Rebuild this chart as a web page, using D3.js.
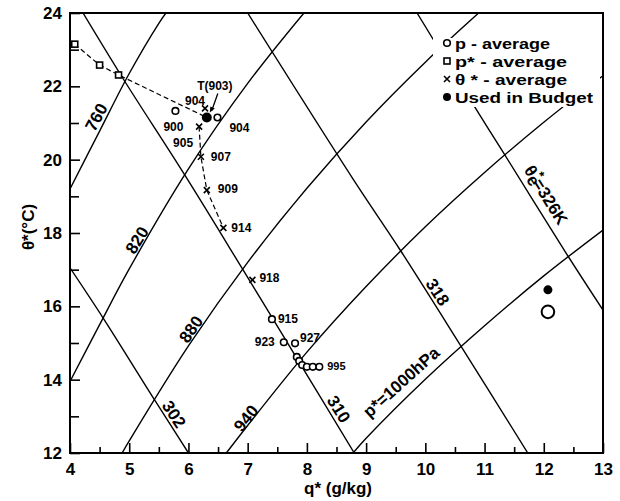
<!DOCTYPE html>
<html>
<head>
<meta charset="utf-8">
<script src="https://cdn.jsdelivr.net/npm/d3@7"></script>
<style>
  body { margin: 0; background: #fff; }
  text { font-family: "Liberation Sans", Arial, Helvetica, sans-serif; font-weight: bold; fill: #000; }
</style>
</head>
<body>
<svg id="chart" width="620" height="501"></svg>
<script>
// Saturation-point isobars p* (hPa): [q* (g/kg), theta* (°C)]
const isobar760  = [[4, 19.2], [4.5, 20.78], [5, 22.35], [5.5, 23.72], [5.62, 24]];
const isobar820  = [[4, 13.95], [4.5, 15.5], [5, 17.02], [6, 19.75], [7, 22.08], [7.95, 24]];
const isobar880  = [[4.88, 12], [5, 12.33], [6, 14.92], [7, 17.2], [8, 19.22], [9, 21.03], [10, 22.66], [10.9, 24]];
const isobar940  = [[6.64, 12], [7, 12.75], [8, 14.75], [9, 16.54], [10, 18.17], [11, 19.65], [12, 21.02], [13, 22.29]];
const isobar1000 = [[8.78, 12], [9, 12.4], [10, 14.01], [11, 15.47], [12, 16.83], [13, 18.08]];

// Saturation equivalent potential temperature lines theta_e* (K)
const isentrope302 = [[4, 17.05], [4.56, 15.68], [5.42, 13.47], [6.0, 12]];
const isentrope310 = [[4.22, 24], [4.9, 22.2], [5.95, 19.55], [6.92, 17.0], [7.88, 14.45], [8.8, 12]];
const isentrope318 = [[7.0, 24], [8.78, 19.47], [9.57, 17.55], [10.62, 14.87], [11.73, 12]];
const isentrope326 = [[9.86, 24], [10.81, 21.5], [11.3, 20.24], [12.39, 17.42], [13, 15.9]];

// p-averaged saturation points (label = pressure, hPa)
const pAverage = [
  { q: 5.78, t: 21.33, label: "900" },
  { q: 6.49, t: 21.15, label: "904" },
  { q: 7.41, t: 15.65, label: "915" },
  { q: 7.61, t: 15.02, label: "923" },
  { q: 7.80, t: 14.99, label: "927" },
  { q: 7.83, t: 14.62, label: "" },
  { q: 7.87, t: 14.51, label: "" },
  { q: 7.92, t: 14.40, label: "" },
  { q: 8.00, t: 14.35, label: "" },
  { q: 8.10, t: 14.35, label: "" },
  { q: 8.21, t: 14.35, label: "995" }
];

// p*-averaged saturation points
const pStarAverage = [
  { q: 4.08, t: 23.15 },
  { q: 4.50, t: 22.58 },
  { q: 4.82, t: 22.31 }
];

// theta*-averaged saturation points (label = p*, hPa)
const thetaStarAverage = [
  { q: 6.28, t: 21.40, label: "904" },
  { q: 6.18, t: 20.90, label: "905" },
  { q: 6.21, t: 20.08, label: "907" },
  { q: 6.31, t: 19.17, label: "909" },
  { q: 6.59, t: 18.14, label: "914" },
  { q: 7.08, t: 16.72, label: "918" }
];

// Points used in the budget
const budgetPoint = { q: 6.31, t: 21.15, label: "T(903)" };
const surfaceBudget = { q: 12.07, t: 16.45 };
const surfaceMean = { q: 12.07, t: 15.85 };

const qTickValues = [4, 5, 6, 7, 8, 9, 10, 11, 12, 13];
const qMinorTicks = [4.5, 5.5, 6.5, 7.5, 8.5, 9.5, 10.5, 11.5, 12.5];
const thetaTickValues = [12, 14, 16, 18, 20, 22, 24];
const thetaMinorTicks = [13, 15, 17, 19, 21, 23];

const legendItems = [
  { symbol: "circle", text: "p - average" },
  { symbol: "square", text: "p* - average" },
  { symbol: "cross", text: "θ * - average" },
  { symbol: "dot", text: "Used in Budget" }
];

// ---------------------------------------------------------------
const svg = d3.select("#chart");
const x = d3.scaleLinear().domain([4, 13]).range([70, 603]);
const y = d3.scaleLinear().domain([12, 24]).range([453, 13]);

svg.append("defs").append("clipPath").attr("id", "plot")
  .append("rect").attr("x", x(4)).attr("y", y(24))
  .attr("width", x(13) - x(4)).attr("height", y(12) - y(24));

const curve = d3.line()
  .x(d => x(d[0])).y(d => y(d[1]))
  .curve(d3.curveCatmullRom.alpha(0.5));

const grid = svg.append("g").attr("clip-path", "url(#plot)");
[isobar760, isobar820, isobar880, isobar940, isobar1000,
 isentrope302, isentrope310, isentrope318, isentrope326].forEach(pts => {
  grid.append("path").attr("d", curve(pts))
    .attr("fill", "none").attr("stroke", "#000").attr("stroke-width", 1.4);
});

// labels running along the reference lines
const lineLabels = [
  { text: "760", q: 4.44, t: 21.16, angle: -62 },
  { text: "820", q: 5.13, t: 17.81, angle: -58 },
  { text: "880", q: 6.04, t: 15.38, angle: -55 },
  { text: "940", q: 6.97, t: 12.95, angle: -51 },
  { text: "p*=1000hPa", q: 9.59, t: 13.94, angle: -42 },
  { text: "302", q: 5.76, t: 13.06, angle: 57 },
  { text: "310", q: 8.54, t: 13.20, angle: 58 },
  { text: "318", q: 10.21, t: 16.39, angle: 57 }
];
lineLabels.forEach(l => {
  svg.append("text")
    .attr("transform", `translate(${x(l.q)},${y(l.t)}) rotate(${l.angle})`)
    .attr("text-anchor", "middle").attr("dy", "0.36em")
    .style("font-size", "17px").text(l.text);
});
{
  const t = svg.append("text")
    .attr("transform", `translate(${x(12.04)},${y(19.04)}) rotate(58)`)
    .attr("text-anchor", "middle").attr("dy", "0.36em")
    .style("font-size", "17px");
  t.append("tspan").text("θ");
  t.append("tspan").attr("dy", 3).text("e");
  t.append("tspan").attr("dx", -8).attr("dy", -10).style("font-size", "13px").text("*");
  t.append("tspan").attr("dy", 7).text("=326K");
}

// legend panel
const legend = svg.append("g");
legend.append("rect").attr("x", 433).attr("y", 38).attr("width", 167).attr("height", 69).attr("fill", "#fff");
const legendWidths = [95, 112, 112, 138];
legendItems.forEach((d, i) => {
  const cy = 43 + i * 18, cx = 447;
  drawSymbol(legend, d.symbol, cx, cy);
  legend.append("text").attr("x", 455).attr("y", cy + 5.5)
    .attr("textLength", legendWidths[i]).attr("lengthAdjust", "spacingAndGlyphs")
    .style("font-size", "15.5px").text(d.text);
});

function drawSymbol(g, sym, cx, cy) {
  if (sym === "circle") {
    g.append("circle").attr("cx", cx).attr("cy", cy).attr("r", 3.3)
      .attr("fill", "#fff").attr("stroke", "#000").attr("stroke-width", 1.6);
  } else if (sym === "square") {
    g.append("rect").attr("x", cx - 3).attr("y", cy - 3).attr("width", 6).attr("height", 6)
      .attr("fill", "#fff").attr("stroke", "#000").attr("stroke-width", 1.6);
  } else if (sym === "cross") {
    const s = 3;
    g.append("path").attr("d", `M${cx - s},${cy - s}L${cx + s},${cy + s}M${cx - s},${cy + s}L${cx + s},${cy - s}`)
      .attr("stroke", "#000").attr("stroke-width", 1.6);
  } else if (sym === "dot") {
    g.append("circle").attr("cx", cx).attr("cy", cy).attr("r", 4).attr("fill", "#000");
  }
}

// dashed connectors
const dashed = d3.line().x(d => x(d.q)).y(d => y(d.t));
svg.append("path").attr("d", dashed([...pStarAverage, budgetPoint]))
  .attr("fill", "none").attr("stroke", "#000").attr("stroke-width", 1.2).attr("stroke-dasharray", "5,3");
svg.append("path").attr("d", dashed(thetaStarAverage.slice(1, 5)))
  .attr("fill", "none").attr("stroke", "#000").attr("stroke-width", 1.2).attr("stroke-dasharray", "5,3");

// markers
pStarAverage.forEach(d => drawSymbol(svg, "square", x(d.q), y(d.t)));
thetaStarAverage.forEach(d => drawSymbol(svg, "cross", x(d.q), y(d.t)));
pAverage.forEach(d => drawSymbol(svg, "circle", x(d.q), y(d.t)));
svg.append("circle").attr("cx", x(budgetPoint.q)).attr("cy", y(budgetPoint.t)).attr("r", 5).attr("fill", "#000");
svg.append("circle").attr("cx", x(surfaceBudget.q)).attr("cy", y(surfaceBudget.t)).attr("r", 4.5).attr("fill", "#000");
svg.append("circle").attr("cx", x(surfaceMean.q)).attr("cy", y(surfaceMean.t)).attr("r", 6.3)
  .attr("fill", "none").attr("stroke", "#000").attr("stroke-width", 2);

// point labels (offsets in pixels from each marker)
const pLabelOffset = { "900": [-2, 16], "904": [22, 10], "915": [16, 0], "923": [-19, -1], "927": [15, -6], "995": [17, -1] };
const thetaLabelOffset = { "904": [-10, -8], "905": [-16, 16], "907": [20, 0], "909": [21, -1], "914": [18, 0], "918": [17, -2] };
pAverage.filter(d => d.label).forEach(d => {
  const o = pLabelOffset[d.label];
  svg.append("text").attr("x", x(d.q) + o[0]).attr("y", y(d.t) + o[1]).attr("dy", "0.36em")
    .attr("text-anchor", "middle").style("font-size", d.label === "995" ? "11px" : "12px").text(d.label);
});
thetaStarAverage.forEach(d => {
  const o = thetaLabelOffset[d.label];
  svg.append("text").attr("x", x(d.q) + o[0]).attr("y", y(d.t) + o[1]).attr("dy", "0.36em")
    .attr("text-anchor", "middle").style("font-size", "12px").text(d.label);
});
{
  const bx = x(budgetPoint.q), by = y(budgetPoint.t);
  svg.append("text").attr("x", bx + 8).attr("y", by - 32).attr("dy", "0.36em")
    .attr("text-anchor", "middle").style("font-size", "12px").text(budgetPoint.label);
  svg.append("path").attr("d", `M${bx + 11},${by - 24}L${bx + 5},${by - 7}`)
    .attr("stroke", "#000").attr("stroke-width", 1.3);
  svg.append("path").attr("d", `M${bx + 3},${by - 5}L${bx + 3.5},${by - 11}L${bx + 8},${by - 9}Z`).attr("fill", "#000");
}

// axes
svg.append("g").attr("transform", `translate(0,${y(12)})`)
  .call(d3.axisBottom(x).tickValues(qTickValues).tickFormat(d3.format("d"))
    .tickSizeInner(-10).tickSizeOuter(0).tickPadding(10));
svg.append("g").attr("transform", `translate(0,${y(12)})`)
  .call(d3.axisBottom(x).tickValues(qMinorTicks).tickFormat("").tickSizeInner(-6).tickSizeOuter(0));
svg.append("g").attr("transform", `translate(${x(4)},0)`)
  .call(d3.axisLeft(y).tickValues(thetaTickValues).tickFormat(d3.format("d"))
    .tickSizeInner(-10).tickSizeOuter(0).tickPadding(8));
svg.append("g").attr("transform", `translate(${x(4)},0)`)
  .call(d3.axisLeft(y).tickValues(thetaMinorTicks).tickFormat("").tickSizeInner(-9).tickSizeOuter(0));
svg.selectAll(".domain").remove();
svg.selectAll(".tick line").attr("stroke", "#000").attr("stroke-width", 1.6);
svg.selectAll(".tick text").style("font-size", "17px").style("font-family", "'Liberation Sans', Arial, sans-serif")
  .style("font-weight", "bold").attr("fill", "#000");

// frame
svg.append("rect").attr("x", x(4)).attr("y", y(24)).attr("width", x(13) - x(4)).attr("height", y(12) - y(24))
  .attr("fill", "none").attr("stroke", "#000").attr("stroke-width", 2);

// axis titles
svg.append("text").attr("x", 338).attr("y", 494).attr("text-anchor", "middle")
  .style("font-size", "17px").text("q* (g/kg)");
svg.append("text").attr("transform", `translate(34,${(y(12) + y(24)) / 2 - 6}) rotate(-90)`)
  .attr("text-anchor", "middle").style("font-size", "17px").text("θ*(°C)");
</script>
</body>
</html>
